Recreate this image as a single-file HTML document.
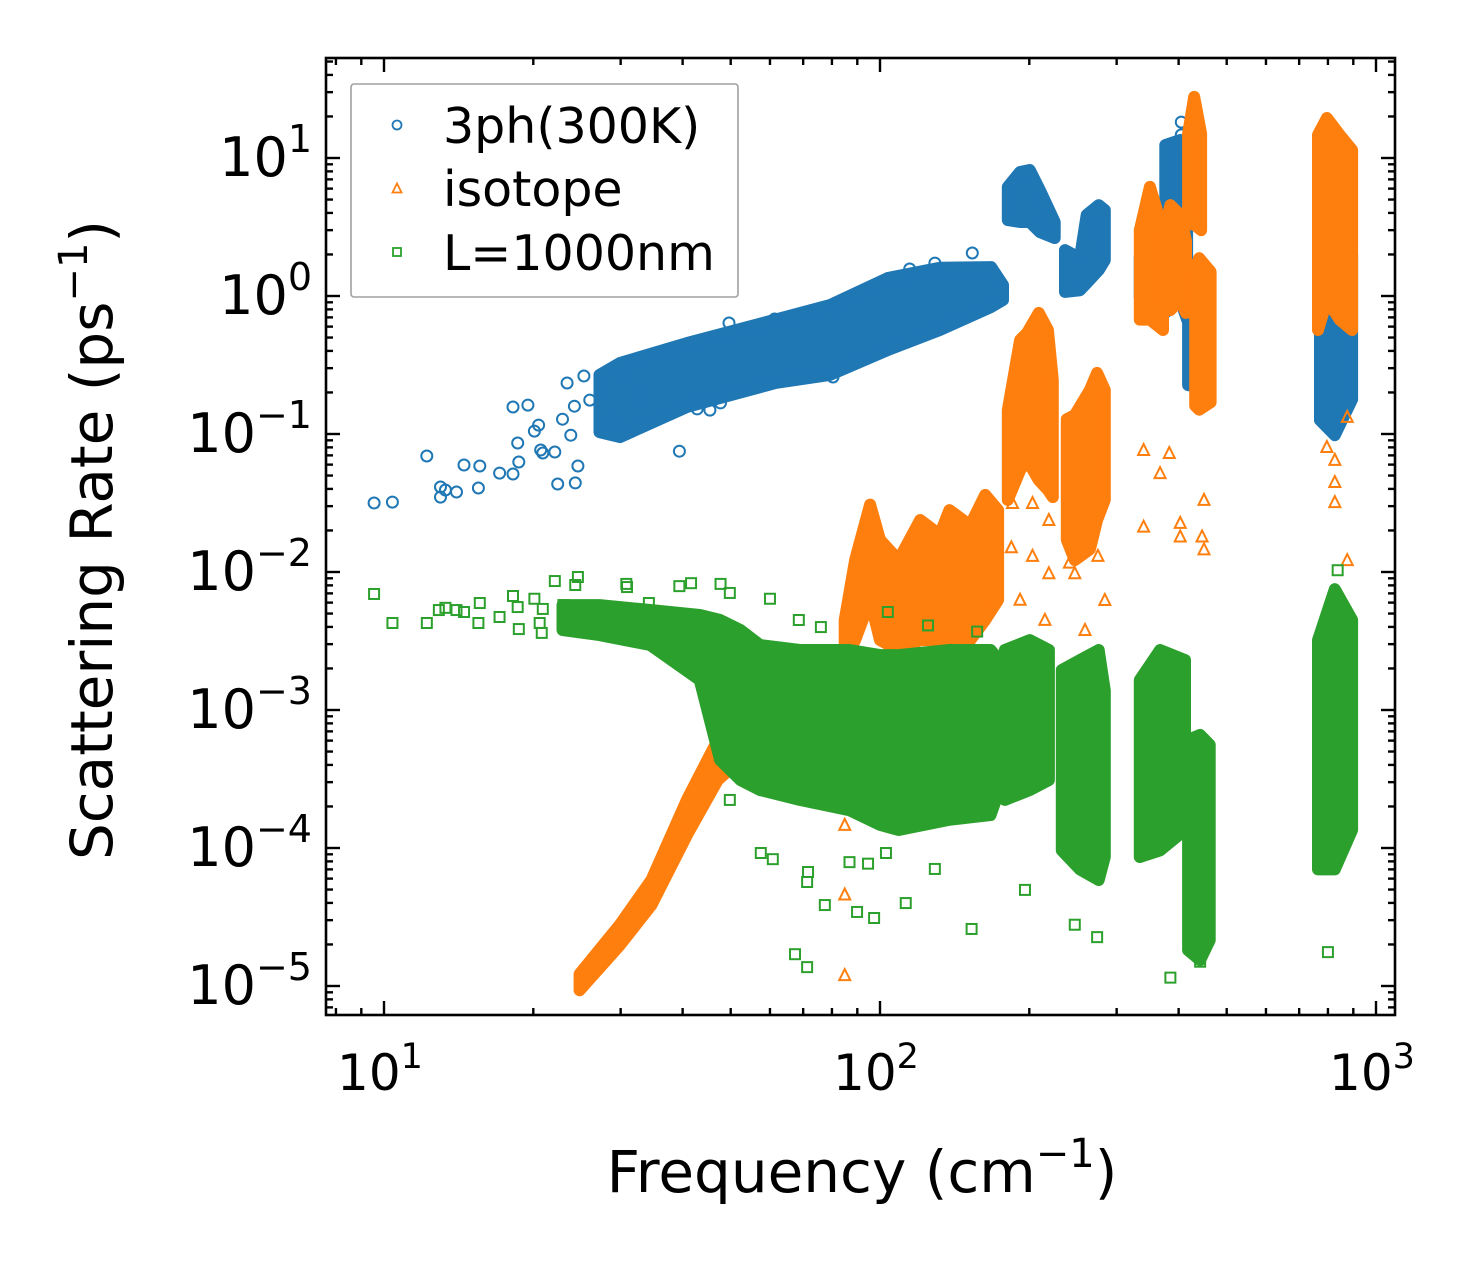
<!DOCTYPE html>
<html><head><meta charset="utf-8">
<style>
html,body{margin:0;padding:0;background:#fff;}
svg{display:block;font-family:"DejaVu Sans","Liberation Sans",sans-serif;}
</style></head>
<body>
<svg id="chart" width="1484" height="1265" viewBox="0 0 1484 1265" xmlns="http://www.w3.org/2000/svg">
<rect x="0" y="0" width="1484" height="1265" fill="#fff"/>
<g id="series"></g>
<g id="axes"></g>
<text x="862" y="1192" font-size="58" text-anchor="middle">Frequency (cm<tspan font-size="40" dy="-25">−1</tspan><tspan dy="25">)</tspan></text>
<text transform="translate(112,540) rotate(-90)" font-size="58" text-anchor="middle">Scattering Rate (ps<tspan font-size="40" dy="-25">−1</tspan><tspan dy="25">)</tspan></text>
<g>
<rect x="351" y="84" width="387" height="213" rx="3" fill="#fff" fill-opacity="0.8" stroke="#a0a0a0" stroke-width="1.6"/>
<circle cx="397" cy="125" r="4.5" fill="none" stroke="#1f77b4" stroke-width="1.8"/>
<text x="443" y="143" font-size="49">3ph(300K)</text>
<path d="M392.5,192.5 L397,183.5 L401.5,192.5 Z" fill="none" stroke="#ff7f0e" stroke-width="1.8"/>
<text x="443" y="206" font-size="49">isotope</text>
<rect x="393" y="248" width="8" height="8" fill="none" stroke="#2ca02c" stroke-width="1.8"/>
<text x="443" y="270" font-size="49">L=1000nm</text>
</g>
</svg>
<script>
// ---------- data (frequency cm^-1, rate ps^-1) ----------
const freq3ph = [9.55,10.4,12.2,13.0,13.0,13.3,14.0,14.5,15.6,15.5,17.1,18.2,18.2,19.5,18.6,18.7,20.1,20.5,20.7,20.9,22.1,22.4,24.3,24.6,23.4,25.3,24.2,22.9,23.8,27.6,30.6,39.4,47.7,45.4,42.8,37.2,49.6,61.3,81.1,80.4,114.8,129,153.5,26.0,28.6,32.8,405,405];
const rate3ph = [0.0316,0.0321,0.0693,0.0413,0.0349,0.0393,0.038,0.0596,0.0586,0.0406,0.0521,0.0513,0.157,0.162,0.086,0.0627,0.105,0.116,0.0766,0.0728,0.0741,0.0434,0.0442,0.0586,0.234,0.263,0.159,0.128,0.098,0.208,0.251,0.075,0.168,0.149,0.152,0.406,0.637,0.681,0.847,0.259,1.57,1.73,2.05,0.176,0.126,0.192,18.2,14.7];
// dense clusters: [frequency, low rate, high rate]
const band3phMain = [[27.2,0.103,0.268],[29.9,0.095,0.327],[40.8,0.157,0.456],[61.6,0.234,0.675],[79.3,0.268,0.861],[103.7,0.406,1.35],[132,0.567,1.60],[167.5,0.832,1.62],[177,0.935,1.20]];
const band3ph200 = [[181,3.55,6.17],[191.6,3.44,7.92],[200.5,3.44,8.19],[210,2.91,5.86],[225,2.63,3.44]];
const band3ph260 = [[236,1.07,2.15],[253,1.10,1.88],[261,1.24,3.87],[276,1.54,4.56],[284,1.82,4.2]];
const band3ph380a = [[334,0.98,1.92],[345,0.935,2.15]];
const band3ph380b = [[376,0.754,12.4],[403,0.935,13.5],[416,0.675,11.4]];
const band3ph440 = [[418,0.226,1.16],[458,0.219,0.935]];
const band3ph800 = [[771,0.126,1.99],[826,0.098,2.15],[895,0.178,1.99]];

const freqIso = [340,340,367,383,403,403,446,450,450,875,796,826,826,826,875,185,203,219,184,203,219,241,275,247,259,284,191.6,215,84.9,84.9,84.9];
const rateIso = [0.0766,0.0213,0.0521,0.0728,0.0227,0.0181,0.0181,0.0146,0.0333,0.133,0.0805,0.0649,0.0449,0.0321,0.0122,0.0316,0.0316,0.0238,0.0151,0.0131,0.0098,0.0117,0.0131,0.0098,0.0038,0.00627,0.0063,0.0045,1.2e-5,4.6e-5,1.47e-4];
const bandIsoLow = [[24.8,9.3e-6,1.22e-5],[29.9,1.98e-5,2.78e-5],[34.6,3.86e-5,5.86e-5],[40.8,1.24e-4,2.23e-4],[47.1,3.11e-4,6.07e-4],[52.3,4.34e-4,1.19e-3],[57.3,6.07e-4,0.00165],[68.9,8.5e-4,0.0023]];
const bandIsoMid = [[84.9,0.0023,0.00449],[89.1,0.00321,0.0122],[95.5,0.00627,0.0308],[100,0.00321,0.0171],[109,0.00272,0.0122],[120.5,0.00321,0.0238],[132,0.00321,0.0186],[138,0.00321,0.0281],[152,0.00321,0.0218],[163,0.00449,0.0362],[173,0.00627,0.0281]];
const bandIso200 = [[181,0.0333,0.149],[191.6,0.0546,0.48],[198,0.0649,0.54],[209,0.0463,0.754],[218,0.0393,0.567],[223,0.0349,0.246]];
const bandIso260 = [[238,0.0171,0.128],[247,0.0122,0.137],[265,0.0146,0.208],[274,0.0238,0.277],[284,0.0333,0.208]];
const bandIso380a = [[334,0.675,3.0],[350,0.675,6.17],[372,0.567,3.0]];
const bandIso380b = [[376,0.792,3.0],[385,0.792,4.56],[403,0.935,3.87],[414,0.754,2.5]];
const bandIso420 = [[418,3.3,15],[430,3.3,27.7],[444,3.0,15]];
const bandIso450 = [[432,0.16,1.6],[440,0.15,1.88],[464,0.17,1.5]];
const bandIso800 = [[764,0.567,14.7],[796,0.935,19.5],[845,0.675,14.7],[895,0.567,11.4]];

const freqBdy = [9.55,10.4,12.2,12.9,13.3,14.0,14.5,15.6,15.5,17.1,18.2,18.6,18.7,20.1,20.6,20.9,20.8,22.1,24.3,24.6,23.0,30.8,30.9,34.2,39.4,41.6,47.7,49.8,60.0,57.5,60.8,71.6,71.3,86.8,94.6,77.4,89.9,97.3,67.4,71.3,112.7,153,129,102.8,49.8,196,247,274,385,442,800,837,68.6,76.0,103.7,125,157];
const rateBdy = [0.00693,0.00427,0.00427,0.0053,0.0055,0.0053,0.00513,0.00596,0.00427,0.00472,0.0067,0.00557,0.00386,0.0064,0.00427,0.0054,0.00362,0.0086,0.00805,0.0092,0.00576,0.0082,0.00778,0.00596,0.0079,0.0083,0.0082,0.00705,0.0064,9.2e-5,8.3e-5,6.7e-5,5.67e-5,7.9e-5,7.7e-5,3.86e-5,3.44e-5,3.11e-5,1.7e-5,1.37e-5,3.99e-5,2.59e-5,7.05e-5,9.2e-5,2.23e-4,4.97e-5,2.78e-5,2.26e-5,1.15e-5,1.5e-5,1.76e-5,0.0103,0.00449,0.00399,0.00513,0.0041,0.0037];
const bandBdyMain = [[22.9,0.0038,0.00576],[27.2,0.00349,0.00576],[34.4,0.00296,0.0053],[43.3,0.00165,0.00488],[47.6,4.34e-4,0.00449],[52.3,3.11e-4,0.0038],[57.3,2.63e-4,0.00296],[68.9,2.23e-4,0.00272],[86.8,1.88e-4,0.00272],[100,1.47e-4,0.0025],[109,1.35e-4,0.0025],[138,1.6e-4,0.00272],[167,1.73e-4,0.00272],[174,2.63e-4,0.0023]];
const bandBdy200 = [[178.6,2.23e-4,0.00272],[200.5,2.63e-4,0.00321],[219,3.11e-4,0.00272]];
const bandBdy260 = [[232.6,9.6e-5,0.00195],[253,7e-5,0.0023],[276,5.86e-5,0.00272],[284,8.6e-5,0.00138]];
const bandBdy380 = [[334,8.6e-5,0.00165],[367,9.6e-5,0.00272],[412,1.35e-4,0.0023]];
const bandBdy440 = [[418,1.82e-5,6.07e-4],[442,1.54e-5,6.6e-4],[462,2.15e-5,5.6e-4]];
const bandBdy800 = [[764,7e-5,0.00321],[826,7e-5,0.0075],[895,1.35e-4,0.00449]];

const xMajorTicks = [10,100,1000];
const xTickExps = ["1","2","3"];
const yMajorTicks = [1e-5,1e-4,1e-3,1e-2,1e-1,1,10];
const yTickExps = ["−5","−4","−3","−2","−1","0","1"];

// ---------- axes ----------
const X0=326, X1=1395, Y0=58, Y1=1015;
function xs(f){ return 384 + (Math.log10(f)-1)*496; }
function ys(r){ return 158 - (Math.log10(r)-1)*138; }
const NS="http://www.w3.org/2000/svg";
const series=document.getElementById('series');
const axes=document.getElementById('axes');
function mk(tag,attrs,parent){const e=document.createElementNS(NS,tag);for(const k in attrs)e.setAttribute(k,attrs[k]);parent.appendChild(e);return e;}

const colors={b:'#1f77b4',o:'#ff7f0e',g:'#2ca02c'};
function band(arr,color,name){
  let d='M'+arr.map(p=>xs(p[0]).toFixed(1)+','+ys(p[2]).toFixed(1)).join(' L');
  d+=' L'+arr.slice().reverse().map(p=>xs(p[0]).toFixed(1)+','+ys(p[1]).toFixed(1)).join(' L')+' Z';
  const e=mk('path',{d:d,fill:color,stroke:color,'stroke-width':12,'stroke-linejoin':'round'},series);
  
  
}
function circles(fx,ry){
  fx.forEach((f,i)=>{
    const c=mk('circle',{cx:xs(f).toFixed(1),cy:ys(ry[i]).toFixed(1),r:5.5,fill:'none',stroke:colors.b,'stroke-width':2},series);
    
    
  });
}
function tris(fx,ry){
  fx.forEach((f,i)=>{
    const x=xs(f),y=ys(ry[i]);
    const t=mk('path',{d:`M${x-5.5},${y+5} L${x},${y-6} L${x+5.5},${y+5} Z`,fill:'none',stroke:colors.o,'stroke-width':2},series);
    
    
  });
}
function squares(fx,ry){
  fx.forEach((f,i)=>{
    const x=xs(f),y=ys(ry[i]);
    const s=mk('rect',{x:x-5,y:y-5,width:10,height:10,fill:'none',stroke:colors.g,'stroke-width':2},series);
    
    
  });
}
[band3phMain,band3ph200,band3ph260,band3ph380a,band3ph380b,band3ph440,band3ph800].forEach(a=>band(a,colors.b,'cluster-3ph'));
circles(freq3ph,rate3ph);
[bandIsoLow,bandIsoMid,bandIso200,bandIso260,bandIso380a,bandIso380b,bandIso420,bandIso450,bandIso800].forEach(a=>band(a,colors.o,'cluster-isotope'));
tris(freqIso,rateIso);
[bandBdyMain,bandBdy200,bandBdy260,bandBdy380,bandBdy440,bandBdy800].forEach(a=>band(a,colors.g,'cluster-boundary'));
squares(freqBdy,rateBdy);

// frame
const fr=mk('rect',{x:X0,y:Y0,width:X1-X0,height:Y1-Y0,fill:'none',stroke:'#000','stroke-width':2.6},axes);


// x ticks
for(let dec=0;dec<=3;dec++){
  for(let m=1;m<=9;m++){
    const f=m*Math.pow(10,dec); const x=xs(f);
    if(x<X0+1||x>X1-1) continue;
    const L=(m===1)?14:7;
    const t1=mk('line',{x1:x,x2:x,y1:Y1,y2:Y1-L,stroke:'#000','stroke-width':2.4},axes);
    
    
    const t2=mk('line',{x1:x,x2:x,y1:Y0,y2:Y0+L,stroke:'#000','stroke-width':2.4},axes);
    
    
  }
}
xMajorTicks.forEach((f,i)=>{
  const x=xs(f);
  const t=mk('text',{x:x-4,y:1090,'font-size':50,'text-anchor':'middle'},axes);
  t.innerHTML='10<tspan font-size="35" dy="-22">'+xTickExps[i]+'</tspan>';
  
  
});
// y ticks
for(let dec=-6;dec<=1;dec++){
  for(let m=1;m<=9;m++){
    const r=m*Math.pow(10,dec); const y=ys(r);
    if(y<Y0+1||y>Y1-1) continue;
    const L=(m===1)?14:7;
    const t1=mk('line',{x1:X0,x2:X0+L,y1:y,y2:y,stroke:'#000','stroke-width':2.4},axes);
    
    
    const t2=mk('line',{x1:X1,x2:X1-L,y1:y,y2:y,stroke:'#000','stroke-width':2.4},axes);
    
    
  }
}
yMajorTicks.forEach((r,i)=>{
  const y=ys(r);
  const t=mk('text',{x:312,y:y+18,'font-size':54,'text-anchor':'end'},axes);
  t.innerHTML='10<tspan font-size="38" dy="-24">'+yTickExps[i]+'</tspan>';
  
  
});
</script>
</body></html>
